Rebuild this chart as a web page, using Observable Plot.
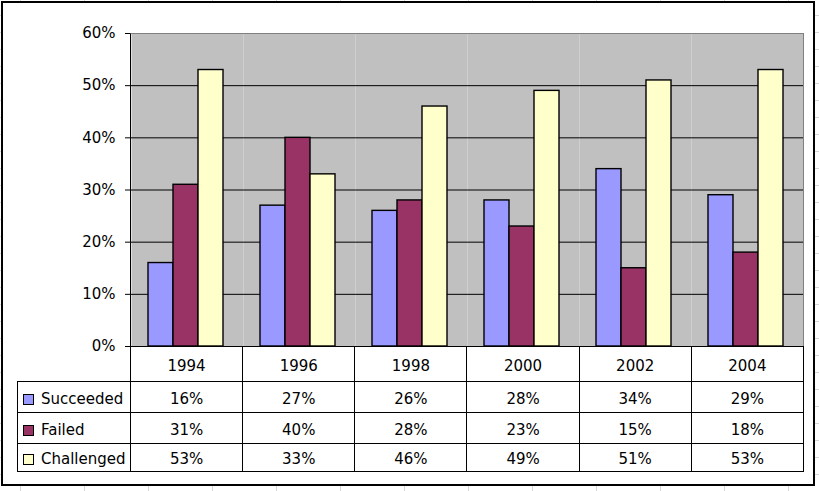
<!DOCTYPE html>
<html>
<head>
<meta charset="utf-8">
<script src="https://cdn.jsdelivr.net/npm/d3@7"></script>
<script src="https://cdn.jsdelivr.net/npm/@observablehq/plot@0.6"></script>
<style>
  html, body { margin: 0; padding: 0; }
  body {
    width: 819px; height: 491px; position: relative; overflow: hidden;
    background-color: #fff;
    background-image:
      linear-gradient(to right, #d6d6d6 1px, transparent 1px),
      linear-gradient(to bottom, #d6d6d6 1px, transparent 1px);
    background-size: 64px 17px;
    background-position: 20px 15px;
    font-family: "DejaVu Sans", Verdana, sans-serif;
  }
  #frame {
    position: absolute; left: 1px; top: 1px; width: 814px; height: 485px;
    box-sizing: border-box; border: 2px solid #000; background: #fff;
  }
  #chart { position: absolute; left: 0; top: 0; }
  #plotborder {
    position: absolute; left: 130px; top: 33px; width: 674px; height: 314px;
    box-sizing: border-box; border-top: 1px solid #808080; border-right: 1px solid #808080;
    border-left: 1px solid #000; pointer-events: none;
  }
  #datatable {
    position: absolute; left: 17px; top: 346px;
    border-collapse: collapse; table-layout: fixed;
    font-size: 15px; color: #000;
  }
  #datatable td {
    border: 1px solid #000; text-align: center; vertical-align: middle;
    padding: 3px 0 0 0; white-space: nowrap; overflow: hidden;
  }
  #datatable td.empty { border-top: none; border-left: none; }
  #datatable td.lbl { text-align: left; padding-left: 5px; }
  .key {
    display: inline-block; width: 9px; height: 9px; border: 1px solid #000;
    margin-right: 7px; vertical-align: -1px;
  }
</style>
</head>
<body>
<div id="frame"></div>
<div id="chart"></div>
<div id="plotborder"></div>
<table id="datatable"></table>
<script>
const years = ["1994", "1996", "1998", "2000", "2002", "2004"];
const seriesNames = ["Succeeded", "Failed", "Challenged"];
const succeeded = [16, 27, 26, 28, 34, 29];
const failed = [31, 40, 28, 23, 15, 18];
const challenged = [53, 33, 46, 49, 51, 53];
const seriesColors = ["#9999FF", "#993366", "#FFFFCC"];
const yTicks = [0, 10, 20, 30, 40, 50, 60];

const seriesValues = [succeeded, failed, challenged];
const data = [];
years.forEach((year, i) => {
  seriesNames.forEach((s, j) => data.push({year, series: s, value: seriesValues[j][i]}));
});

const W = 819, mL = 130, mR = 16;
const chart = Plot.plot({
  width: W,
  height: 348,
  marginTop: 33,
  marginBottom: 2,
  marginLeft: mL,
  marginRight: mR,
  style: {fontFamily: "DejaVu Sans, Verdana, sans-serif", fontSize: "15px", background: "transparent", color: "#000", overflow: "visible"},
  facet: {data, x: "year", label: null},
  fx: {domain: years, padding: 0, axis: null, label: null},
  x: {domain: seriesNames, paddingInner: 0, paddingOuter: 0.72, align: 0.45, axis: null},
  y: {domain: [0, 60], ticks: yTicks, tickFormat: d => d + "%", tickSize: 6, tickPadding: 10, label: null},
  color: {domain: seriesNames, range: seriesColors},
  marks: [
    Plot.frame({fill: "#c0c0c0", stroke: null}),
    Plot.ruleY(yTicks.slice(1, -1), {stroke: "#000", strokeWidth: 1}),
    Plot.barY(data, {x: "series", y: "value", fill: "series", stroke: "#000", strokeWidth: 1.4, insetLeft: 0, insetRight: 0})
  ]
});
document.getElementById("chart").appendChild(chart);

// data table under the chart
const colW = (W - mL - mR) / years.length;
const table = document.getElementById("datatable");
const colgroup = document.createElement("colgroup");
[mL - 17, ...years.map(() => colW)].forEach(w => {
  const c = document.createElement("col"); c.style.width = w + "px"; colgroup.appendChild(c);
});
table.appendChild(colgroup);
const head = document.createElement("tr");
head.style.height = "35px";
const empty = document.createElement("td"); empty.className = "empty"; head.appendChild(empty);
years.forEach(y => { const td = document.createElement("td"); td.textContent = y; head.appendChild(td); });
table.appendChild(head);
const rowHeights = [31, 31, 28];
seriesNames.forEach((s, j) => {
  const tr = document.createElement("tr");
  tr.style.height = rowHeights[j] + "px";
  const lbl = document.createElement("td"); lbl.className = "lbl";
  const key = document.createElement("span"); key.className = "key"; key.style.background = seriesColors[j];
  lbl.appendChild(key); lbl.appendChild(document.createTextNode(s));
  tr.appendChild(lbl);
  seriesValues[j].forEach(v => { const td = document.createElement("td"); td.textContent = v + "%"; tr.appendChild(td); });
  table.appendChild(tr);
});
</script>
</body>
</html>
